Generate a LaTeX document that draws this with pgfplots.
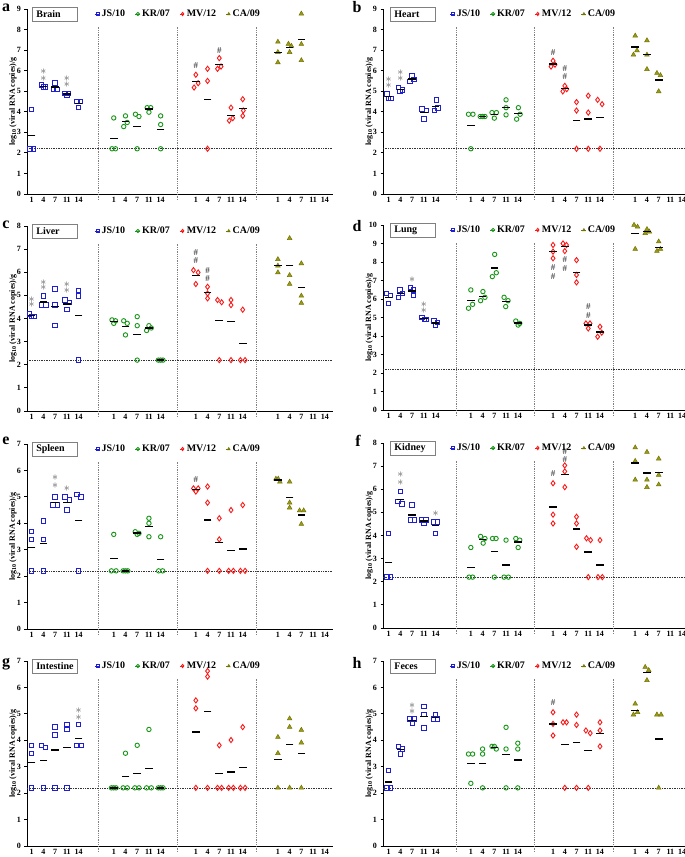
\documentclass[border=0pt]{standalone}
\usepackage{pgfplots}
\pgfplotsset{compat=1.18}
\usepackage{fontspec}
\setmainfont{Liberation Serif}
\definecolor{cjs}{RGB}{30,30,210}
\definecolor{ckr}{RGB}{25,150,25}
\definecolor{cmv}{RGB}{250,25,25}
\definecolor{cca}{RGB}{155,155,25}
\definecolor{ccad}{RGB}{115,115,0}
\pgfplotsset{
 panel/.style={
   scale only axis, height=185pt, ymin=0, clip=false,
   axis x line*=bottom, axis y line*=left,
   every outer x axis line/.append style={-},
   every outer y axis line/.append style={-},
   axis line style={-, line width=0.8pt, black},
   xtick={0,1,2,3,4,7,8,9,10,11,14,15,16,17,18,21,22,23,24,25},
   xticklabels={1,4,7,11,14,1,4,7,11,14,1,4,7,11,14,1,4,7,11,14},
   xtick style={draw=none},
   ytick distance=1,
   tick align=outside, major tick length=2.5pt,
   ytick style={black, line width=0.8pt},
   ticklabel style={font=\bfseries\fontsize{8}{9}\selectfont},
   x tick label style={yshift=3pt},
   /pgf/number format/assume math mode=true,
   ylabel={log\textsubscript{10} (viral RNA copies)/g},
   ylabel style={at={(rel axis cs:-0.046,0.5)}, anchor=center, font=\bfseries\fontsize{8}{9}\selectfont},
   legend columns=4,
   legend cell align=left,
   legend image code/.code={\draw[##1,mark size=1.6pt] plot coordinates {(0.1cm,0cm)}; \path (0cm,0cm) -- (0.16cm,0cm);},
   legend style={at={(rel axis cs:0.216,0.973)}, anchor=west, draw=none, fill=none,
     font=\bfseries\fontsize{10}{12}\selectfont, inner sep=1pt,
     /tikz/every even column/.append style={column sep=7.5pt}},
 },
 panelL/.style={panel, width=306pt, xmin=-0.4, xmax=25.7},
 panelR/.style={panel, width=302pt, xmin=-0.48, xmax=25.24},
 js/.style={only marks, mark=square, mark size=2.2pt, color=cjs, line width=0.9pt},
 kr/.style={only marks, mark=o, mark size=2.2pt, color=ckr, line width=0.9pt},
 mv/.style={only marks, mark=diamond, mark size=2.6pt, color=cmv, line width=0.9pt},
 ca/.style={only marks, mark=triangle*, mark size=2.7pt, color=ccad, mark options={fill=cca, draw=ccad, line width=0.5pt}},
 mean/.style={only marks, mark=-, mark size=3.8pt, color=black, line width=1.3pt, forget plot},
}
\tikzset{
 vref/.style={gray, densely dotted, line width=0.8pt},
 href/.style={black!80, densely dotted, line width=0.7pt},
 annot/.style={font=\fontsize{12}{12}\selectfont, inner sep=0pt, text=black!65},
 hsh/.style={font=\bfseries\fontsize{9}{9}\selectfont, inner sep=0pt, text=black!70},
 organ/.style={draw=gray, line width=0.9pt, fill=white, anchor=west, inner xsep=4pt, inner ysep=0pt,
   text width=37pt, minimum height=14pt, align=left, font=\bfseries\fontsize{10}{12}\selectfont},
 letter/.style={font=\bfseries\fontsize{16}{16}\selectfont, inner sep=0pt},
}
\newcommand{\decor}{%
 \draw[vref] ([yshift=-6pt]axis cs:5.73,0) -- ({axis cs:5.73,0}|-{rel axis cs:0,0.905});
 \draw[vref] ([yshift=-6pt]axis cs:12.43,0) -- ({axis cs:12.43,0}|-{rel axis cs:0,0.905});
 \draw[vref] ([yshift=-6pt]axis cs:19.17,0) -- ({axis cs:19.17,0}|-{rel axis cs:0,0.905});
 \draw[href] ({rel axis cs:0,0}|-{axis cs:0,2.2}) -- ({rel axis cs:1,0}|-{axis cs:0,2.2});
}
\newcommand{\organ}[2][0.016]{\node[organ] at (rel axis cs:#1,0.973) {#2};}
\newcommand{\st}[2]{\node[annot] at (axis cs:#1,#2) {$\ast$};}
\newcommand{\hs}[2]{\node[hsh] at (axis cs:#1,#2) {\#};}
\begin{document}
\begin{tikzpicture}
\useasboundingbox (0pt,0pt) rectangle (685pt,857pt);
% ---------------- a Brain
\begin{axis}[panelL, at={(27pt,663pt)}, anchor=south west, ymax=9]
\decor
\addplot[js] coordinates {(0,4.1) (-0.15,2.2) (0.15,2.2) (0.85,5.3) (1,5.2) (1.15,5.2) (2,5.4) (1.85,5.1) (2.15,5.1) (2.85,4.9) (3.15,4.9) (3,4.78) (3.85,4.5) (4.15,4.5) (4,4.22)};
\addplot[kr] coordinates {(7,3.7) (6.85,2.2) (7.15,2.2) (7.85,3.28) (8,3.8) (8.15,3.48) (8.85,3.88) (9.15,3.77) (9,2.2) (9.85,4.2) (10.15,4.2) (10,3.98) (11,3.8) (11,3.38) (11,2.2)};
\addplot[mv] coordinates {(13.85,5.18) (14,5.8) (14.2,5.39) (15,6.09) (15,5.5) (15,2.2) (15.85,6.09) (16,6.61) (16.15,6.2) (17,4.2) (16.85,3.57) (17.15,3.69) (18,4.61) (18.05,4.06) (18,3.8)};
\addplot[ca] coordinates {(21,7.4) (21,6.9) (21,6.4) (21.9,7.3) (22.15,7.2) (22,6.9) (23,8.77) (23,7.29) (23,6.5)};
\addplot[mean] coordinates {(0,2.83) (1,5.23) (2,5.2) (3,4.86) (4,4.4) (7,2.7) (8,3.52) (9,3.28) (10,4.13) (11,3.13) (14,5.46) (15,4.6) (16,6.3) (17,3.82) (18,4.16) (21,6.9) (22,7.13) (23,7.52)};
\legend{JS/10,KR/07,MV/12,CA/09}
\organ{Brain}
\st{1}{5.96}\st{1}{5.59}\st{3}{5.6}\st{3}{5.31}
\hs{14}{6.25}\hs{16}{6.98}
\end{axis}
% ---------------- b Heart
\begin{axis}[panelR, at={(383pt,663pt)}, anchor=south west, ymax=9]
\decor
\addplot[js] coordinates {(-0.15,4.86) (0,4.66) (0.18,4.66) (0.83,5.18) (0.95,4.99) (1.17,5.07) (1.83,5.47) (2,5.75) (2.17,5.56) (2.83,4.14) (3,3.66) (3.2,4.06) (3.88,4.06) (4.05,4.58) (4.2,4.18)};
\addplot[kr] coordinates {(6.8,3.88) (7.18,3.88) (7,2.2) (7.8,3.77) (8,3.77) (8.2,3.77) (8.8,3.96) (9,3.69) (9.18,3.96) (10,4.58) (10,4.2) (10,3.85) (10.9,3.64) (11.05,4.2) (11.2,3.88)};
\addplot[mv] coordinates {(13.83,6.2) (14,6.48) (14.17,6.29) (14.83,4.99) (15,5.26) (15.17,5.1) (16,4.47) (16,4.06) (16,2.2) (17,4.78) (17,3.96) (17,2.2) (17.8,4.58) (18.18,4.37) (18,2.2)};
\addplot[ca] coordinates {(21,7.7) (20.85,6.77) (21.15,6.98) (22,7.47) (22,6.77) (22,6.07) (22.85,5.88) (23.15,5.77) (23,4.99)};
\addplot[mean] coordinates {(0,4.73) (1,5.08) (2,5.6) (3,3.95) (4,4.27) (7,3.32) (8,3.77) (9,3.87) (10,4.21) (11,3.91) (14,6.32) (15,5.12) (16,3.58) (17,3.65) (18,3.72) (21,7.15) (22,6.77) (23,5.55)};
\legend{JS/10,KR/07,MV/12,CA/09}
\organ[0.023]{Heart}
\st{0}{5.56}\st{0}{5.26}\st{1}{5.88}\st{1}{5.6}
\hs{14}{6.9}\hs{15}{6.12}\hs{15}{5.69}
\end{axis}
% ---------------- c Liver
\begin{axis}[panelL, at={(27pt,446pt)}, anchor=south west, ymax=8]
\decor
\addplot[js] coordinates {(-0.17,4.19) (0,4.08) (0.2,4.08) (1,4.98) (0.83,4.58) (1.2,4.58) (2,5.27) (2,4.58) (2,3.69) (2.83,4.8) (3.2,4.7) (3,4.38) (4,5.2) (4,4.98) (4,2.2)};
\addplot[kr] coordinates {(6.85,3.94) (7,3.79) (7.15,3.9) (7.85,3.9) (8.15,3.79) (8,3.29) (9,4.08) (9,3.69) (9,2.2) (9.8,3.48) (10,3.69) (10.2,3.59) (10.8,2.2) (11,2.2) (11.2,2.2)};
\addplot[mv] coordinates {(13.8,6.09) (14.2,5.99) (14,5.49) (15,5.37) (15,5.08) (15,4.87) (15.85,4.8) (16.2,4.7) (16,2.2) (17,4.8) (17,4.58) (17,2.2) (18,4.38) (17.8,2.2) (18.2,2.2)};
\addplot[ca] coordinates {(21,6.56) (21,6.28) (21,5.99) (22,7.47) (22,5.87) (22,5.49) (23,6.38) (23,4.98) (23,4.67)};
\addplot[mean] coordinates {(0,4.12) (1,4.71) (2,4.51) (3,4.63) (4,4.12) (7,3.87) (8,3.66) (9,3.32) (10,3.59) (11,2.2) (14,5.86) (15,5.11) (16,3.9) (17,3.86) (18,2.93) (21,6.28) (22,6.28) (23,5.34)};
\legend{JS/10,KR/07,MV/12,CA/09}
\organ{Liver}
\st{0}{4.83}\st{0}{4.58}\st{1}{5.56}\st{1}{5.31}\st{3}{5.46}\st{3}{5.2}
\hs{14}{6.85}\hs{14}{6.52}\hs{15}{6.06}\hs{15}{5.73}
\end{axis}
% ---------------- d Lung
\begin{axis}[panelR, at={(383pt,447pt)}, anchor=south west, ymax=10]
\decor
\addplot[js] coordinates {(-0.17,6.31) (0.17,6.18) (0,5.77) (0.83,6.09) (0.97,6.49) (1.2,6.31) (1.85,6.61) (2.1,6.49) (2.1,6.18) (2.83,5.0) (3.03,4.9) (3.17,4.9) (3.85,4.81) (4.15,4.72) (4,4.59)};
\addplot[kr] coordinates {(6.8,5.5) (7.15,5.71) (7,6.49) (7.83,5.91) (8.03,6.4) (8.2,6.09) (8.83,7.21) (9.03,8.41) (9.17,7.42) (9.83,6.09) (9.97,5.59) (10.17,5.91) (10.83,4.81) (11.03,4.59) (11.17,4.68)};
\addplot[mv] coordinates {(14,8.92) (14,8.56) (14,8.2) (14.85,9.0) (15.15,8.92) (15,8.59) (16,8.1) (16,7.3) (16,6.9) (16.8,4.68) (17.15,4.68) (17,4.41) (17.8,3.96) (18,4.5) (18.15,4.18)};
\addplot[ca] coordinates {(20.9,10.0) (21.2,9.9) (21,8.7) (21.85,9.55) (22,9.77) (22.2,9.64) (23,9.1) (22.85,8.59) (23.15,8.7)};
\addplot[mean] coordinates {(0,6.09) (1,6.29) (2,6.43) (3,4.93) (4,4.7) (7,5.9) (8,6.13) (9,7.68) (10,5.86) (11,4.7) (14,8.56) (15,8.85) (16,7.43) (17,4.6) (18,4.22) (21,9.55) (22,9.65) (23,8.8)};
\legend{JS/10,KR/07,MV/12,CA/09}
\organ[0.023]{Lung}
\st{2}{7.03}\st{3}{5.7}\st{3}{5.39}
\hs{14}{7.71}\hs{14}{7.24}\hs{15}{8.14}\hs{15}{7.66}\hs{17}{5.59}\hs{17}{5.08}
\end{axis}
% ---------------- e Spleen
\begin{axis}[panelL, at={(27pt,228pt)}, anchor=south west, ymax=7]
\decor
\addplot[js] coordinates {(0,3.68) (0,3.39) (0,2.2) (1,4.09) (1,3.39) (1,2.2) (2,5.0) (1.8,4.69) (2.18,4.69) (2.83,5.0) (3.2,4.88) (3,4.5) (3.85,5.1) (4.2,5.0) (4,2.2)};
\addplot[kr] coordinates {(7,3.58) (6.8,2.2) (7.2,2.2) (7.8,2.2) (8,2.2) (8.2,2.2) (8.83,3.68) (9,3.58) (9.15,3.62) (10,4.19) (10,4.0) (10,3.49) (11,3.49) (10.83,2.2) (11.17,2.2)};
\addplot[mv] coordinates {(13.8,5.32) (14,5.2) (14.2,5.32) (15,5.39) (15,4.78) (15,2.2) (16,4.19) (16,3.39) (16,2.2) (17,4.5) (16.8,2.2) (17.2,2.2) (18,4.69) (17.8,2.2) (18.2,2.2)};
\addplot[ca] coordinates {(20.83,5.68) (21.03,5.68) (21.17,5.57) (22,5.57) (22,4.78) (22,4.59) (22.85,4.48) (23.2,4.48) (23,3.97)};
\addplot[mean] coordinates {(0,3.09) (1,3.23) (2,4.79) (3,4.79) (4,4.1) (7,2.66) (8,2.2) (9,3.63) (10,3.89) (11,2.63) (14,5.28) (15,4.12) (16,3.26) (17,2.97) (18,3.03) (21,5.64) (22,4.98) (23,4.31)};
\legend{JS/10,KR/07,MV/12,CA/09}
\organ{Spleen}
\st{2}{5.72}\st{2}{5.43}\st{3}{5.32}
\hs{14}{5.64}
\end{axis}
% ---------------- f Kidney
\begin{axis}[panelR, at={(383pt,229pt)}, anchor=south west, ymax=8]
\decor
\addplot[js] coordinates {(0,4.09) (-0.15,2.2) (0.15,2.2) (1,5.9) (0.8,5.46) (1.15,5.36) (2,5.32) (1.85,4.68) (2.2,4.68) (2.8,4.68) (3.17,4.68) (3,4.52) (3.8,4.59) (4.15,4.59) (4,4.09)};
\addplot[kr] coordinates {(7,3.48) (6.85,2.2) (7.15,2.2) (7.83,3.96) (8.05,3.67) (8.2,3.87) (8.85,3.87) (9.15,3.87) (9,2.2) (10,3.8) (9.83,2.2) (10.2,2.2) (10.83,3.87) (11.03,3.48) (11.17,3.8)};
\addplot[mv] coordinates {(14,6.26) (14,4.9) (14,4.52) (15,7.03) (15,6.77) (15,6.09) (16,4.81) (16,4.52) (16,3.51) (16.85,3.88) (17.2,3.8) (17,2.2) (18,3.8) (17.83,2.2) (18.2,2.2)};
\addplot[ca] coordinates {(21,7.8) (21,7.22) (21,6.41) (22,7.61) (22,6.41) (22,6.09) (23,7.32) (23,6.62) (23,6.2)};
\addplot[mean] coordinates {(0,2.83) (1,5.57) (2,4.89) (3,4.63) (4,4.42) (7,2.63) (8,3.83) (9,3.31) (10,2.73) (11,3.72) (14,5.23) (15,6.63) (16,4.28) (17,3.29) (18,2.73) (21,7.14) (22,6.7) (23,6.71)};
\legend{JS/10,KR/07,MV/12,CA/09}
\organ[0.023]{Kidney}
\st{1}{6.61}\st{1}{6.28}\st{4}{4.93}
\hs{14}{6.67}\hs{15}{7.63}\hs{15}{7.3}
\end{axis}
% ---------------- g Intestine
\begin{axis}[panelL, at={(27pt,11pt)}, anchor=south west, ymax=7]
\decor
\addplot[js] coordinates {(0,3.81) (0,3.51) (0,2.2) (0.85,3.81) (1.15,3.72) (1,2.2) (2,4.5) (2,4.2) (2,2.2) (3,4.6) (3,4.41) (3,2.2) (4,4.6) (3.85,3.81) (4.2,3.81)};
\addplot[kr] coordinates {(6.8,2.2) (7,2.2) (7.2,2.2) (8,3.51) (7.8,2.2) (8.15,2.2) (9,3.81) (8.8,2.2) (9.15,2.2) (10,4.41) (9.8,2.2) (10.2,2.2) (10.8,2.2) (11,2.2) (11.2,2.2)};
\addplot[mv] coordinates {(14,5.51) (14,5.21) (14,2.2) (15,6.62) (15,6.41) (15,2.2) (16,3.81) (15.85,2.2) (16.2,2.2) (17,4.01) (16.8,2.2) (17.2,2.2) (18,4.5) (17.8,2.2) (18.2,2.2)};
\addplot[ca] coordinates {(21,4.12) (21,3.51) (21,2.2) (22,4.82) (22,4.5) (22,2.2) (23,4.39) (23,3.91) (23,2.2)};
\addplot[mean] coordinates {(0,3.17) (1,3.24) (2,3.63) (3,3.74) (4,4.07) (7,2.2) (8,2.64) (9,2.74) (10,2.94) (11,2.2) (14,4.31) (15,5.08) (16,2.74) (17,2.8) (18,2.97) (21,3.28) (22,3.84) (23,3.5)};
\legend{JS/10,KR/07,MV/12,CA/09}
\organ{Intestine}
\st{4}{5.13}\st{4}{4.86}
\end{axis}
% ---------------- h Feces
\begin{axis}[panelR, at={(383pt,11pt)}, anchor=south west, ymax=7]
\decor
\addplot[js] coordinates {(0,2.87) (-0.15,2.2) (0.15,2.2) (0.85,3.76) (1,3.48) (1.17,3.67) (1.83,4.81) (2.05,4.66) (2.17,4.81) (3,5.28) (3,4.97) (3,4.47) (3.83,4.81) (4,4.97) (4.15,4.81)};
\addplot[kr] coordinates {(6.8,3.48) (7.15,3.48) (7,2.37) (8,3.67) (8,3.48) (8,2.2) (8.8,3.77) (9,3.77) (9.17,3.67) (10,4.49) (10,3.67) (10,2.2) (11,3.89) (11,3.67) (11,2.2)};
\addplot[mv] coordinates {(14,5.06) (14,4.62) (14,4.18) (14.85,4.68) (15.15,4.68) (15,2.2) (16,4.97) (16,4.58) (16,2.2) (16.8,4.37) (17.17,4.27) (17,2.2) (18,4.68) (18,4.37) (18,3.77)};
\addplot[ca] coordinates {(21,5.38) (20.85,4.97) (21.2,5.06) (21.85,6.77) (22.15,6.65) (22,6.27) (22.85,4.97) (23.2,4.97) (23,2.2)};
\addplot[mean] coordinates {(0,2.42) (1,3.64) (2,4.76) (3,4.91) (4,4.86) (7,3.11) (8,3.12) (9,3.74) (10,3.45) (11,3.25) (14,4.62) (15,3.85) (16,3.92) (17,3.61) (18,4.27) (21,5.14) (22,6.56) (23,4.05)};
\legend{JS/10,KR/07,MV/12,CA/09}
\organ[0.023]{Feces}
\st{2}{5.31}\st{2}{5.07}
\hs{14}{5.44}
\end{axis}
% panel letters
\node[letter] at (6pt,849pt) {a};
\node[letter] at (357pt,850pt) {b};
\node[letter] at (6pt,632pt) {c};
\node[letter] at (357pt,631pt) {d};
\node[letter] at (6pt,416pt) {e};
\node[letter] at (358pt,416pt) {f};
\node[letter] at (6pt,193pt) {g};
\node[letter] at (357pt,194pt) {h};
\end{tikzpicture}
\end{document}
